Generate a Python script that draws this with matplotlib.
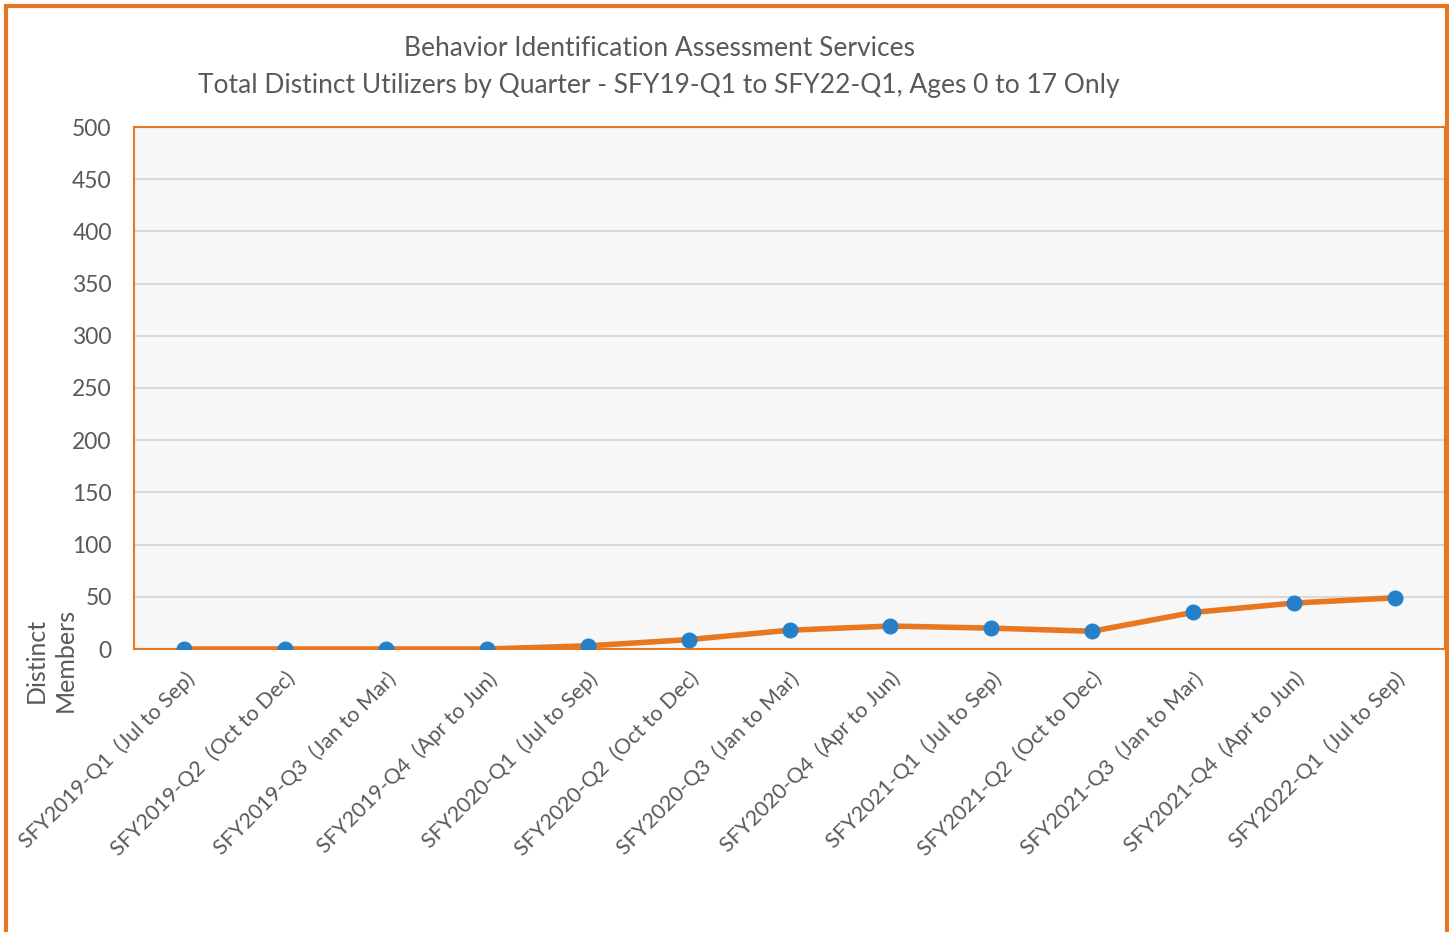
import matplotlib
matplotlib.use("Agg")
import matplotlib.pyplot as plt
from matplotlib.patches import Rectangle

categories = [
    "SFY2019-Q1  (Jul to Sep)", "SFY2019-Q2  (Oct to Dec)", "SFY2019-Q3  (Jan to Mar)",
    "SFY2019-Q4  (Apr to Jun)", "SFY2020-Q1  (Jul to Sep)", "SFY2020-Q2  (Oct to Dec)",
    "SFY2020-Q3  (Jan to Mar)", "SFY2020-Q4  (Apr to Jun)", "SFY2021-Q1  (Jul to Sep)",
    "SFY2021-Q2  (Oct to Dec)", "SFY2021-Q3  (Jan to Mar)", "SFY2021-Q4  (Apr to Jun)",
    "SFY2022-Q1  (Jul to Sep)",
]
values = [0, 0, 0, 0, 3, 9, 18, 22, 20, 17, 35, 44, 49]
yticks = [0, 50, 100, 150, 200, 250, 300, 350, 400, 450, 500]

plt.rcParams['font.family'] = ['Lato', 'DejaVu Sans']
TXT = '#595959'
ORANGE = '#E87722'
BLUE = '#2580C8'

fig = plt.figure(figsize=(14.49, 9.32), dpi=100)
ax = fig.add_axes([134/1449, 1 - 649/932, (1445-134)/1449, (649-127)/932])
ax.set_facecolor('#F7F7F7')

x = list(range(len(categories)))
ax.plot(x, values, color=ORANGE, lw=4, zorder=3, solid_capstyle='round')
ax.plot(x, values, 'o', color=BLUE, ms=10.5, zorder=4)

ax.set_xlim(-0.5, len(categories) - 0.5)
ax.set_ylim(0, 500)
ax.set_yticks(yticks)
ax.set_yticklabels([str(v) for v in yticks], fontsize=16.5, color=TXT)
ax.yaxis.grid(True, color='#D9D9D9', lw=1.5)
ax.set_axisbelow(True)
ax.tick_params(axis='both', length=0)
ax.tick_params(axis='y', pad=16)
ax.set_xticks(x)
ax.set_xticklabels(categories, rotation=45, ha='right', rotation_mode='anchor',
                   fontsize=15.5, color=TXT)
ax.tick_params(axis='x', pad=14)
for s in ax.spines.values():
    s.set_color(ORANGE)
    s.set_linewidth(1.5)

fig.text(659/1449, 1 - 49/932, "Behavior Identification Assessment Services",
         ha='center', va='center', fontsize=19, color=TXT)
fig.text(659/1449, 1 - 85/932,
         "Total Distinct Utilizers by Quarter - SFY19-Q1 to SFY22-Q1, Ages 0 to 17 Only",
         ha='center', va='center', fontsize=19, color=TXT)
fig.text(51/1449, 1 - 660/932, "Distinct\nMembers", rotation=90, ha='center', va='center',
         fontsize=18, color=TXT, linespacing=1.3)

fig.patches.append(Rectangle((6/1449, -0.05), (1447-6)/1449, 1 - 6/932 + 0.05,
                             transform=fig.transFigure, fill=False,
                             edgecolor=ORANGE, lw=3))

fig.savefig("out.png", dpi=100)
